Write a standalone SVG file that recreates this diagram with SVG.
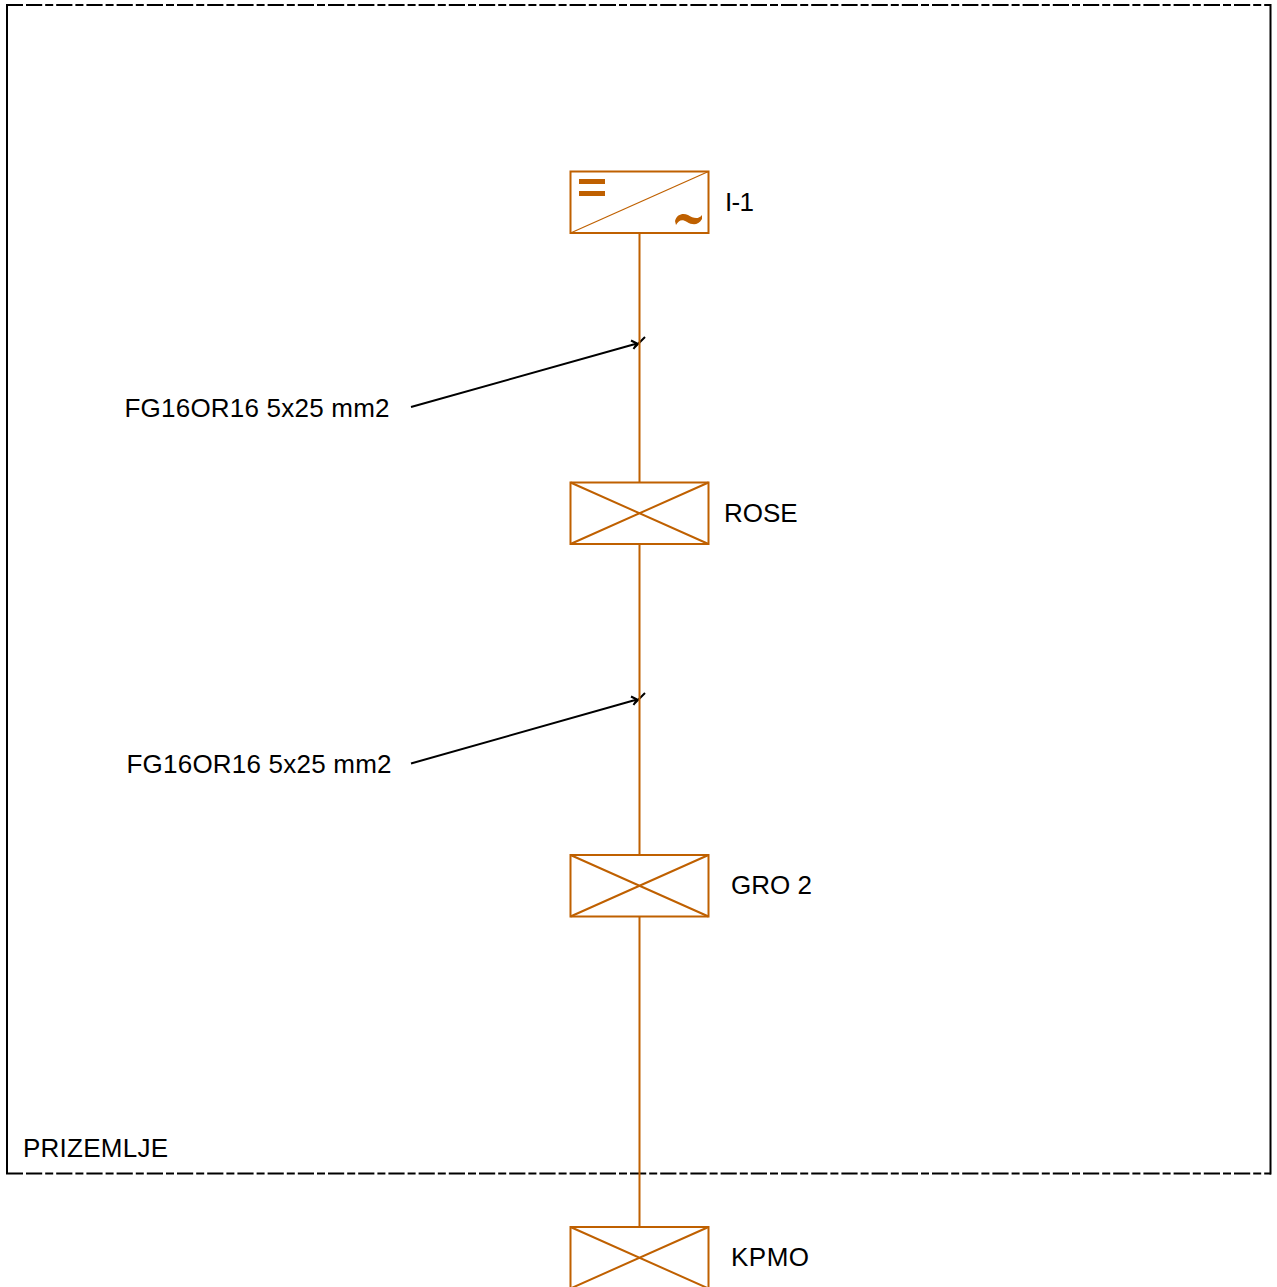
<svg xmlns="http://www.w3.org/2000/svg" width="1277" height="1287" viewBox="0 0 1277 1287">
<style>
text{font-family:"Liberation Sans",Arial,sans-serif;font-size:26px;fill:#000}
.o{fill:none;stroke:#bf6000;stroke-width:2}
.t{fill:none;stroke:#bf6000;stroke-width:1.2}
.b{fill:none;stroke:#000;stroke-width:2}
.d{stroke-dasharray:16.200 3 8 3}
</style>
<defs>
<g id="sw"><rect class="o" x="570.500" y="0.500" width="138" height="61.500"/><path class="o" d="M570.500 .5L708.500 62M708.500 .5L570.500 62"/></g>
</defs>
<rect width="1277" height="1287" fill="#fff"/>
<g id="frame">
<path class="b" d="M7 4V1174.500M1270.500 4V1174.500M6 5H23M6 1173.500H23"/>
<path class="b d" d="M26 5H1271M26 1173.500H1271"/>
<text x="23" y="1157" textLength="145">PRIZEMLJE</text>
</g>
<g id="connectors">
<path class="b" d="M411 407L637 343.500M631 340.500L637 343.500L633.500 349M634 348L645 337M411 763.500L637 699.500M631 696.500L637 699.500L633.500 705M634 704L645 693"/>
<path class="o" d="M639.500 233V482.500M639.500 544V855M639.500 916V1227"/>
<text x="124.500" y="417" textLength="265">FG16OR16 5x25 mm2</text>
<text x="126.500" y="773" textLength="265">FG16OR16 5x25 mm2</text>
</g>
<g id="I-1">
<rect class="o" x="570.500" y="171.500" width="138" height="61.500"/>
<path class="t" d="M570.500 233L708.500 171.500"/>
<path d="M579 179H605V184H579ZM579 191H605V196H579Z" fill="#bf6000"/>
<path d="M675 221C677 214 683 213 688 215C693 218 698 220 702 215L702 219C698 226 692 225 687 222C682 219 679 220 676 225Z" fill="#bf6000"/>
<text x="725" y="211" textLength="29">I-1</text>
</g>
<g id="ROSE"><use href="#sw" y="482"/><text x="724" y="522">ROSE</text></g>
<g id="GRO2"><use href="#sw" y="854.500"/><text x="731" y="894">GRO 2</text></g>
<g id="KPMO"><use href="#sw" y="1226.500"/><text x="731" y="1266" textLength="78">KPMO</text></g>
</svg>
